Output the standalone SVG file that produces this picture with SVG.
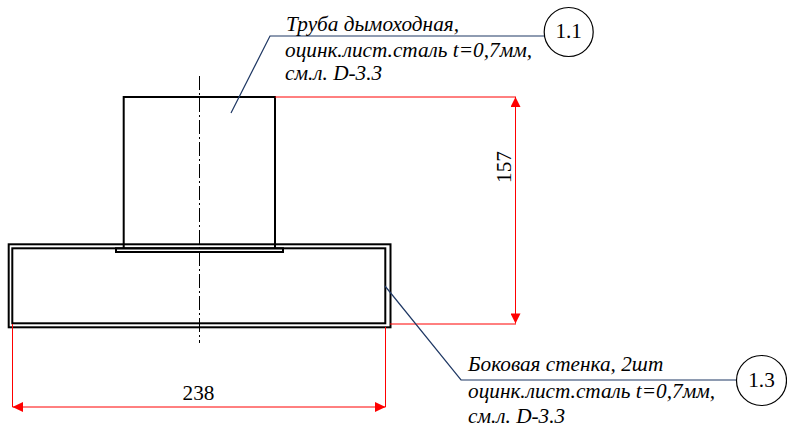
<svg xmlns="http://www.w3.org/2000/svg" width="787" height="428" viewBox="0 0 787 428">
<style>
.k{fill:none;stroke:#000;stroke-width:2}
.d{fill:none;stroke:#f00;stroke-width:1}
.l{fill:none;stroke:#1f3864;stroke-width:1.200}
.c{fill:#fff;stroke:#000;stroke-width:1.200}
text{font-family:"Liberation Serif","Times New Roman",serif;fill:#000}
.i{font-style:italic;font-size:21.250px}
.n{font-size:21.250px;text-anchor:middle}
</style>
<defs>
<marker id="a" viewBox="0 0 10 10" refX="10" refY="5" markerWidth="11" markerHeight="10" markerUnits="userSpaceOnUse" orient="auto-start-reverse"><path d="M0 0L10 5L0 10Z" fill="#f00"/></marker>
</defs>
<rect width="787" height="428" fill="#fff"/>
<g id="box"><rect class="k" x="8.700" y="244.300" width="381.800" height="83"/><rect class="k" x="12.300" y="248.300" width="373" height="75"/></g>
<g id="pipe"><path class="k" d="M123.700 248V97H275V248"/></g>
<g id="flange"><rect class="k" x="116" y="248.300" width="167" height="3.700"/></g>
<path id="axis" d="M199.500 76V343" fill="none" stroke="#000" stroke-width="1" stroke-dasharray="14 3 2 3"/>
<g id="connectors">
<path class="d" d="M275 97H516M390 324H516"/>
<path class="d" d="M12.500 324V407M385.500 327V407"/>
<path class="d" d="M515.500 97V323.500" marker-start="url(#a)" marker-end="url(#a)"/>
<path class="d" d="M12.500 407H385.500"/>
<path d="M12.500 407L23 402V412ZM385.500 407L375 402V412Z" fill="#f00"/>
<path class="l" d="M231 113L270 36H544"/>
<path class="l" d="M385 286L461 380H737"/>
</g>
<g id="dim-157"><text class="n" transform="translate(510.500 167) rotate(-90)">157</text></g>
<g id="dim-238"><text class="n" x="198.500" y="400">238</text></g>
<g id="label-1-1"><text class="i" x="286" y="30.500">Труба дымоходная,</text><text class="i" x="285" y="56.500">оцинк.лист.сталь t=0,7мм,</text><text class="i" x="285" y="80">см.л. D-3.3</text></g>
<g id="node-1-1"><circle class="c" cx="568.700" cy="32" r="24.500"/><text class="n" x="568.700" y="38">1.1</text></g>
<g id="label-1-3"><text class="i" x="468" y="371">Боковая стенка, 2шт</text><text class="i" x="468" y="398">оцинк.лист.сталь t=0,7мм,</text><text class="i" x="468" y="423">см.л. D-3.3</text></g>
<g id="node-1-3"><circle class="c" cx="761.500" cy="380.500" r="25"/><text class="n" x="761.500" y="387">1.3</text></g>
</svg>
